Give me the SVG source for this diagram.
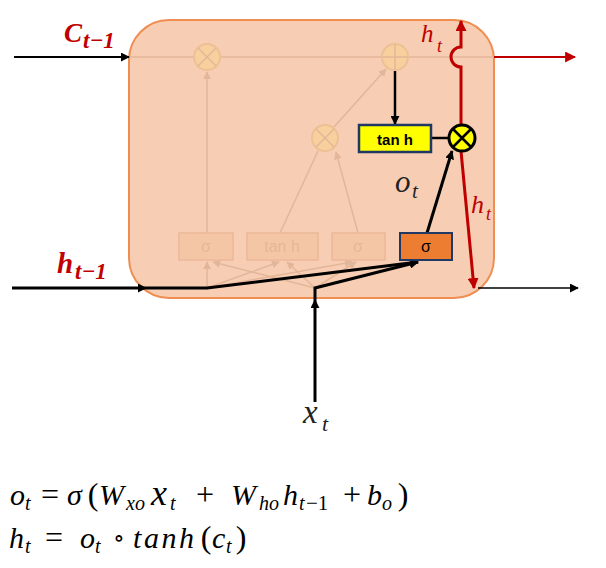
<svg xmlns="http://www.w3.org/2000/svg" width="606" height="568" viewBox="0 0 606 568">
<defs>
<style>
.math{font-family:"Liberation Serif","DejaVu Serif",serif;font-style:italic}
.up{font-family:"Liberation Serif","DejaVu Serif",serif;font-style:normal}
.red{fill:#C00000}
.fade{stroke:#E4B699;stroke-width:1.5;fill:none}
.fbox{fill:#F5C6A5;stroke:#EBB89A;stroke-width:1.5}
.ftxt{font-family:"Liberation Sans",Arial,sans-serif;font-size:16px;fill:#E9B597;text-anchor:middle}
.fcirc{fill:#F8D09E;stroke:#EDC095;stroke-width:2}
.blk{stroke:#000;fill:none}
.m{font-size:30px}
.s{font-size:20px}
.op{font-size:32px;text-anchor:middle}
</style>
<marker id="ab" viewBox="0 0 10 10" refX="9" refY="5" markerWidth="9" markerHeight="9" markerUnits="userSpaceOnUse" orient="auto"><path d="M0,0 L10,5 L0,10 z" fill="#000"/></marker>
<marker id="ar" viewBox="0 0 10 10" refX="9" refY="5" markerWidth="11" markerHeight="11" markerUnits="userSpaceOnUse" orient="auto"><path d="M0,0 L10,5 L0,10 z" fill="#C00000"/></marker>
<marker id="af" viewBox="0 0 10 10" refX="9" refY="5" markerWidth="8" markerHeight="8" markerUnits="userSpaceOnUse" orient="auto"><path d="M0,0 L10,5 L0,10 z" fill="#E4B699"/></marker>
</defs>
<g id="cell">
<rect x="129" y="20" width="365" height="278" rx="40" ry="40" fill="#F7CEB3" stroke="#F08E52" stroke-width="2"/>
</g>
<g id="faded">
<line class="fade" x1="129" y1="57" x2="494" y2="57"/>
<line class="fade" x1="207" y1="233" x2="207" y2="72" marker-end="url(#af)"/>
<line class="fade" x1="280" y1="233" x2="318" y2="151"/>
<line class="fade" x1="358" y1="233" x2="336" y2="152" marker-end="url(#af)"/>
<line class="fade" x1="334" y1="127" x2="386" y2="69" marker-end="url(#af)"/>
<line class="fade" x1="207" y1="288" x2="207" y2="262" marker-end="url(#af)"/>
<line class="fade" x1="207" y1="288" x2="279" y2="262" marker-end="url(#af)"/>
<line class="fade" x1="207" y1="288" x2="352" y2="262" marker-end="url(#af)"/>
<line class="fade" x1="315" y1="288" x2="213" y2="262" marker-end="url(#af)"/>
<line class="fade" x1="315" y1="288" x2="287" y2="262" marker-end="url(#af)"/>
<line class="fade" x1="315" y1="288" x2="356" y2="262" marker-end="url(#af)"/>
<g id="fmul1"><circle class="fcirc" cx="207" cy="57" r="13"/><path class="fade" d="M198,48 L216,66 M216,48 L198,66" stroke="#EDC095" stroke-width="2"/></g>
<g id="fadd"><circle class="fcirc" cx="395" cy="57" r="13"/><path class="fade" d="M395,44 V70 M382,57 H408" stroke="#EDC095" stroke-width="2"/></g>
<g id="fmul2"><circle class="fcirc" cx="325" cy="138" r="13"/><path class="fade" d="M316,129 L334,147 M334,129 L316,147" stroke="#EDC095" stroke-width="2"/></g>
<g id="fsig1"><rect class="fbox" x="179" y="233" width="54" height="27"/><text class="ftxt" x="206" y="252">σ</text></g>
<g id="ftanh"><rect class="fbox" x="247" y="233" width="71" height="27"/><text class="ftxt" x="282" y="252">tan h</text></g>
<g id="fsig2"><rect class="fbox" x="332" y="233" width="53" height="27"/><text class="ftxt" x="358" y="252">σ</text></g>
</g>
<g id="connectors">
<line class="blk" x1="14" y1="57" x2="129" y2="57" stroke-width="2" marker-end="url(#ab)"/>
<line class="blk" x1="12" y1="288" x2="146" y2="288" stroke-width="3" marker-end="url(#ab)"/>
<polyline class="blk" points="146,288 207,288 418,262" stroke-width="3" marker-end="url(#ab)"/>
<line class="blk" x1="315" y1="402" x2="315" y2="300" stroke-width="3" marker-end="url(#ab)"/>
<polyline class="blk" points="315,300 315,288 418,262" stroke-width="3" marker-end="url(#ab)"/>
<line class="blk" x1="427" y1="233" x2="452" y2="151" stroke-width="3" marker-end="url(#ab)"/>
<line class="blk" x1="395" y1="71" x2="395" y2="124" stroke-width="2.5" marker-end="url(#ab)"/>
<line class="blk" x1="432" y1="138" x2="449" y2="138" stroke-width="2.5"/>
<line class="blk" x1="478" y1="288" x2="578" y2="288" stroke-width="1.5" marker-end="url(#ab)"/>
<path d="M461,124 V67 A10,10 0 0 1 461,47 V21" fill="none" stroke="#C00000" stroke-width="3" marker-end="url(#ar)"/>
<line x1="494" y1="57" x2="575" y2="57" stroke="#C00000" stroke-width="2" marker-end="url(#ar)"/>
<line x1="461" y1="151" x2="474" y2="288" stroke="#C00000" stroke-width="3" marker-end="url(#ar)"/>
</g>
<g id="tanh">
<rect x="359" y="125" width="72" height="27" fill="#FFFF00" stroke="#1F3864" stroke-width="2.5"/>
<text x="395" y="145" font-family="Liberation Sans,Arial,sans-serif" font-size="15" font-weight="bold" text-anchor="middle" fill="#000">tan h</text>
</g>
<g id="mul">
<circle cx="462" cy="138" r="13" fill="#FFFF00" stroke="#000" stroke-width="3"/>
<path d="M453,129 L471,147 M471,129 L453,147" stroke="#000" stroke-width="2.5"/>
</g>
<g id="sigma">
<rect x="400" y="233" width="52" height="27" fill="#ED7D31" stroke="#1F3864" stroke-width="2"/>
<text x="426" y="252" font-family="Liberation Sans,Arial,sans-serif" font-size="16" text-anchor="middle" fill="#000">σ</text>
</g>
<g id="labels">
<text class="math red" x="64" y="42" font-size="27" font-weight="bold">C</text>
<text class="math red" x="83" y="48" font-size="23" font-weight="bold">t−1</text>
<text class="math red" x="57" y="273" font-size="29" font-weight="bold">h</text>
<text class="math red" x="75" y="279" font-size="23" font-weight="bold">t−1</text>
<text class="math red" x="421" y="42" font-size="25">h</text>
<text class="math red" x="437" y="52" font-size="18">t</text>
<text class="math red" x="471" y="213" font-size="26">h</text>
<text class="math red" x="486" y="220" font-size="18">t</text>
<text class="math" x="395" y="192" font-size="31" fill="#222">o</text>
<text class="math" x="412" y="198" font-size="21" fill="#222">t</text>
<text class="math" x="303" y="423" font-size="33" fill="#222">x</text>
<text class="math" x="322" y="431" font-size="22" fill="#222">t</text>
</g>
<g id="eq1" fill="#000">
<text class="math m" x="10" y="505">o</text>
<text class="math s" x="25" y="510">t</text>
<text class="up op" x="50" y="505">=</text>
<text class="math m" x="67" y="505">σ</text>
<text class="up op" x="93" y="505">(</text>
<text class="math m" x="99" y="505">W</text>
<text class="math s" x="126" y="510">xo</text>
<text class="math" x="151" y="505" font-size="36">x</text>
<text class="math s" x="170" y="510">t</text>
<text class="up op" x="205" y="505">+</text>
<text class="math m" x="231" y="505">W</text>
<text class="math s" x="259" y="510">ho</text>
<text class="math m" x="283" y="505">h</text>
<text class="math s" x="299" y="510">t</text>
<text class="up" x="306" y="510" font-size="21">−1</text>
<text class="up op" x="352" y="505">+</text>
<text class="math m" x="367" y="505">b</text>
<text class="math s" x="382" y="510">o</text>
<text class="up op" x="403" y="505">)</text>
</g>
<g id="eq2" fill="#000">
<text class="math m" x="9" y="548">h</text>
<text class="math s" x="25" y="553">t</text>
<text class="up op" x="54" y="548">=</text>
<text class="math m" x="80" y="548">o</text>
<text class="math s" x="95" y="553">t</text>
<text class="up" x="119" y="546" font-size="24" text-anchor="middle">∘</text>
<text class="math m" x="133" y="548" textLength="61" lengthAdjust="spacing">tanh</text>
<text class="up op" x="206" y="548">(</text>
<text class="math m" x="212" y="548">c</text>
<text class="math s" x="226" y="553">t</text>
<text class="up op" x="241" y="548">)</text>
</g>
</svg>
